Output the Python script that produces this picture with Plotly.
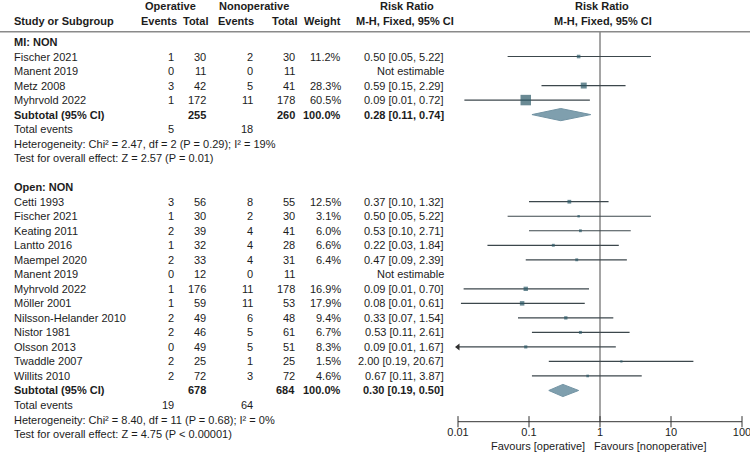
import plotly.graph_objects as go

# ---------------- data ----------------
group_labels = ["MI: NON", "Open: NON"]

mi_studies = ["Fischer 2021", "Manent 2019", "Metz 2008", "Myhrvold 2022"]
mi_op_events = [1, 0, 3, 1]
mi_op_total = [30, 11, 42, 172]
mi_non_events = [2, 0, 5, 11]
mi_non_total = [30, 11, 41, 178]
mi_weight = [11.2, None, 28.3, 60.5]
mi_rr = [0.50, None, 0.59, 0.09]
mi_lo = [0.05, None, 0.15, 0.0123]
mi_hi = [5.22, None, 2.29, 0.72]

open_studies = ["Cetti 1993", "Fischer 2021", "Keating 2011", "Lantto 2016",
                "Maempel 2020", "Manent 2019", "Myhrvold 2022", "Möller 2001",
                "Nilsson-Helander 2010", "Nistor 1981", "Olsson 2013",
                "Twaddle 2007", "Willits 2010"]
open_op_events = [3, 1, 2, 1, 2, 0, 1, 1, 2, 2, 0, 2, 2]
open_op_total = [56, 30, 39, 32, 33, 12, 176, 59, 49, 46, 49, 25, 72]
open_non_events = [8, 2, 4, 4, 4, 0, 11, 11, 6, 5, 5, 1, 3]
open_non_total = [55, 30, 41, 28, 31, 11, 178, 53, 48, 61, 51, 25, 72]
open_weight = [12.5, 3.1, 6.0, 6.6, 6.4, None, 16.9, 17.9, 9.4, 6.7, 8.3, 1.5, 4.6]
open_rr = [0.37, 0.50, 0.53, 0.22, 0.47, None, 0.09, 0.08, 0.33, 0.53, 0.09, 2.00, 0.67]
open_lo = [0.10, 0.05, 0.10, 0.026, 0.09, None, 0.012, 0.011, 0.07, 0.11, 0.0054, 0.19, 0.11]
open_hi = [1.32, 5.22, 2.71, 1.84, 2.39, None, 0.70, 0.61, 1.54, 2.61, 1.67, 20.67, 3.87]

sub_op_total = [255, 678]
sub_non_total = [260, 684]
sub_rr = [0.28, 0.30]
sub_lo = [0.11, 0.19]
sub_hi = [0.74, 0.50]
tot_op_events = [5, 19]
tot_non_events = [18, 64]
heterogeneity = ["Heterogeneity: Chi² = 2.47, df = 2 (P = 0.29); I² = 19%",
                 "Heterogeneity: Chi² = 8.40, df = 11 (P = 0.68); I² = 0%"]
overall_test = ["Test for overall effect: Z = 2.57 (P = 0.01)",
                "Test for overall effect: Z = 4.75 (P < 0.00001)"]

axis_ticks = [0.01, 0.1, 1, 10, 100]
axis_tick_labels = ["0.01", "0.1", "1", "10", "100"]
favours_labels = ["Favours [operative]", "Favours [nonoperative]"]

groups = [
    dict(studies=mi_studies, oe=mi_op_events, ot=mi_op_total, ne=mi_non_events,
         nt=mi_non_total, w=mi_weight, rr=mi_rr, lo=mi_lo, hi=mi_hi),
    dict(studies=open_studies, oe=open_op_events, ot=open_op_total, ne=open_non_events,
         nt=open_non_total, w=open_weight, rr=open_rr, lo=open_lo, hi=open_hi),
]

# ---------------- layout helpers ----------------
W, H = 750, 454
ROW0_PX, ROW_PX = 42.0, 14.52
FONT = "Liberation Sans, Arial, sans-serif"
TXT = "#1c1c1c"
FS = 11


def row_of(px):
    return (px - ROW0_PX) / ROW_PX


X_NAME = 12
X_OE, X_OT, X_NE, X_NT, X_W, X_RR = 176, 208, 255, 297, 343, 446

annotations = []


def txt(xpx, row, s, anchor="right", bold=False):
    annotations.append(dict(
        x=xpx / W, xref="paper", y=row, yref="y", text=f"<b>{s}</b>" if bold else s,
        xanchor=anchor, yanchor="middle", showarrow=False,
        font=dict(family=FONT, size=FS, color=TXT)))


def fmt_rr(r, l, h):
    return f"{r:.2f} [{l:.2f}, {h:.2f}]"


# headers
txt(170, row_of(6), "Operative", "center", True)
txt(254, row_of(6), "Nonoperative", "center", True)
txt(407, row_of(6), "Risk Ratio", "center", True)
txt(602, row_of(6), "Risk Ratio", "center", True)
txt(X_NAME, row_of(21), "Study or Subgroup", "left", True)
txt(X_OE + 3, row_of(21), "Events", "right", True)
txt(X_OT + 2, row_of(21), "Total", "right", True)
txt(X_NE + 1, row_of(21), "Events", "right", True)
txt(X_NT + 2, row_of(21), "Total", "right", True)
txt(X_W, row_of(21), "Weight", "right", True)
txt(405, row_of(21), "M-H, Fixed, 95% CI", "center", True)
txt(603, row_of(21), "M-H, Fixed, 95% CI", "center", True)

ci_x, ci_y = [], []
sq_x, sq_y, sq_s = [], [], []
arrow_x, arrow_y = [], []
dia_traces = []
AX_MIN = axis_ticks[0]

k = 0
for gi, g in enumerate(groups):
    txt(X_NAME, k, group_labels[gi], "left", True)
    k += 1
    for i, name in enumerate(g["studies"]):
        txt(X_NAME, k, name, "left")
        txt(X_OE, k, str(g["oe"][i]))
        txt(X_OT, k, str(g["ot"][i]))
        txt(X_NE, k, str(g["ne"][i]))
        txt(X_NT, k, str(g["nt"][i]))
        if g["rr"][i] is None:
            txt(X_RR, k, "Not estimable")
        else:
            txt(X_W, k, f"{g['w'][i]:.1f}%")
            txt(X_RR, k, fmt_rr(g["rr"][i], g["lo"][i], g["hi"][i]))
            ci_x += [g["lo"][i], g["hi"][i], None]
            ci_y += [k, k, None]
            sq_x.append(g["rr"][i])
            sq_y.append(k)
            sq_s.append(2 + 0.14 * g["w"][i])
            if g["lo"][i] < AX_MIN:
                arrow_x.append(AX_MIN)
                arrow_y.append(k)
        k += 1
    # subtotal
    txt(X_NAME, k, "Subtotal (95% CI)", "left", True)
    txt(X_OT, k, str(sub_op_total[gi]), "right", True)
    txt(X_NT, k, str(sub_non_total[gi]), "right", True)
    txt(X_W, k, "100.0%", "right", True)
    txt(X_RR, k, fmt_rr(sub_rr[gi], sub_lo[gi], sub_hi[gi]), "right", True)
    hh = 0.42
    dia_traces.append(go.Scatter(
        x=[sub_lo[gi], sub_rr[gi], sub_hi[gi], sub_rr[gi], sub_lo[gi]],
        y=[k, k - hh, k, k + hh, k], mode="lines", fill="toself",
        fillcolor="#7f9fae", line=dict(color="#7394a4", width=1),
        hoverinfo="skip", showlegend=False))
    k += 1
    txt(X_NAME, k, "Total events", "left")
    txt(X_OE, k, str(tot_op_events[gi]))
    txt(X_NE, k, str(tot_non_events[gi]))
    k += 1
    txt(X_NAME, k, heterogeneity[gi], "left")
    k += 1
    txt(X_NAME, k, overall_test[gi], "left")
    k += 2

AXIS_ROW = row_of(421.7)
HEAD_ROW = row_of(31.7)

fig = go.Figure()
# reference line at RR = 1
fig.add_trace(go.Scatter(x=[1, 1], y=[HEAD_ROW, AXIS_ROW], mode="lines",
                         line=dict(color="#4a4a4a", width=1), hoverinfo="skip",
                         showlegend=False))
# confidence intervals
fig.add_trace(go.Scatter(x=ci_x, y=ci_y, mode="lines",
                         line=dict(color="#3c474c", width=1.2), hoverinfo="skip",
                         showlegend=False))
for t in dia_traces:
    fig.add_trace(t)
# point estimates
fig.add_trace(go.Scatter(x=sq_x, y=sq_y, mode="markers",
                         marker=dict(symbol="square", size=sq_s, color="#2b5866",
                                     line=dict(width=0)),
                         hoverinfo="skip", showlegend=False))
# arrows for truncated CIs
fig.add_trace(go.Scatter(x=arrow_x, y=arrow_y, mode="markers",
                         marker=dict(symbol="triangle-left", size=6, color="#2f2f2f"),
                         hoverinfo="skip", showlegend=False, cliponaxis=False))
# axis line and ticks
fig.add_trace(go.Scatter(x=[axis_ticks[0], axis_ticks[-1]], y=[AXIS_ROW, AXIS_ROW],
                         mode="lines", line=dict(color="#333333", width=1),
                         hoverinfo="skip", showlegend=False, cliponaxis=False))
fig.add_trace(go.Scatter(x=axis_ticks, y=[AXIS_ROW] * len(axis_ticks), mode="markers",
                         marker=dict(symbol="line-ns", size=8,
                                     line=dict(width=1, color="#333333")),
                         hoverinfo="skip", showlegend=False, cliponaxis=False))
fig.add_trace(go.Scatter(x=axis_ticks, y=[row_of(433)] * len(axis_ticks), mode="text",
                         text=axis_tick_labels, textposition="middle center",
                         textfont=dict(family=FONT, size=FS, color=TXT),
                         hoverinfo="skip", showlegend=False, cliponaxis=False))

txt(587, row_of(446), favours_labels[0], "right")
txt(592, row_of(446), favours_labels[1], "left")

fig.update_layout(
    width=W, height=H, margin=dict(l=0, r=0, t=0, b=0),
    paper_bgcolor="white", plot_bgcolor="white",
    xaxis=dict(type="log", range=[-2, 2], domain=[458 / W, 742 / W], visible=False),
    yaxis=dict(range=[row_of(H), row_of(0)], domain=[0, 1], visible=False),
    annotations=annotations,
    shapes=[dict(type="line", xref="paper", yref="y", x0=0, x1=1,
                 y0=HEAD_ROW, y1=HEAD_ROW, line=dict(color="#8a8a8a", width=1.5))],
)

fig.write_html("out.html")
